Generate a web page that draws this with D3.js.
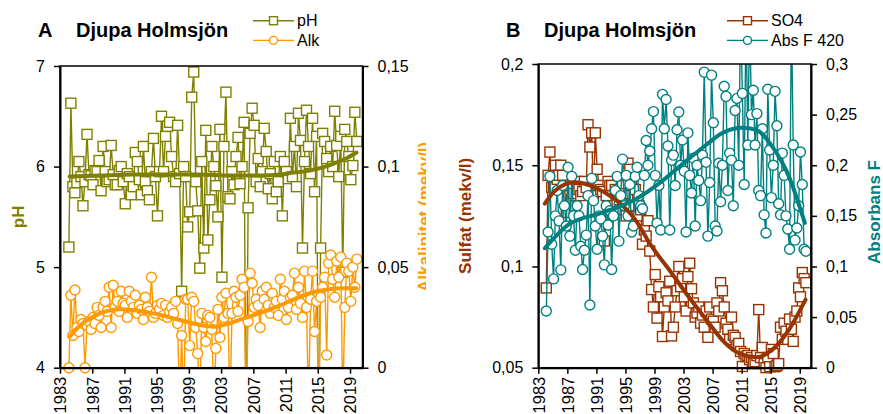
<!DOCTYPE html>
<html>
<head>
<meta charset="utf-8">
<script src="https://cdn.jsdelivr.net/npm/d3@7"></script>
<style>
  body { margin: 0; background: #fff; }
  text { font-family: Arial, "Liberation Sans", sans-serif; }
</style>
</head>
<body>
<svg id="chart" width="883" height="414"></svg>
<script>
// Djupa Holmsjön: pH/alkalinity (A) and sulphate/absorbance (B)

// sampling dates, four samples per year
const sampleYears = [
  1984.1, 1984.35, 1984.6, 1984.85, 1985.1, 1985.35, 1985.6, 1985.85,
  1986.1, 1986.35, 1986.6, 1986.85, 1987.1, 1987.35, 1987.6, 1987.85,
  1988.1, 1988.35, 1988.6, 1988.85, 1989.1, 1989.35, 1989.6, 1989.85,
  1990.1, 1990.35, 1990.6, 1990.85, 1991.1, 1991.35, 1991.6, 1991.85,
  1992.1, 1992.35, 1992.6, 1992.85, 1993.1, 1993.35, 1993.6, 1993.85,
  1994.1, 1994.35, 1994.6, 1994.85, 1995.1, 1995.35, 1995.6, 1995.85,
  1996.1, 1996.35, 1996.6, 1996.85, 1997.1, 1997.35, 1997.6, 1997.85,
  1998.1, 1998.35, 1998.6, 1998.85, 1999.1, 1999.35, 1999.6, 1999.85,
  2000.1, 2000.35, 2000.6, 2000.85, 2001.1, 2001.35, 2001.6, 2001.85,
  2002.1, 2002.35, 2002.6, 2002.85, 2003.1, 2003.35, 2003.6, 2003.85,
  2004.1, 2004.35, 2004.6, 2004.85, 2005.1, 2005.35, 2005.6, 2005.85,
  2006.1, 2006.35, 2006.6, 2006.85, 2007.1, 2007.35, 2007.6, 2007.85,
  2008.1, 2008.35, 2008.6, 2008.85, 2009.1, 2009.35, 2009.6, 2009.85,
  2010.1, 2010.35, 2010.6, 2010.85, 2011.1, 2011.35, 2011.6, 2011.85,
  2012.1, 2012.35, 2012.6, 2012.85, 2013.1, 2013.35, 2013.6, 2013.85,
  2014.1, 2014.35, 2014.6, 2014.85, 2015.1, 2015.35, 2015.6, 2015.85,
  2016.1, 2016.35, 2016.6, 2016.85, 2017.1, 2017.35, 2017.6, 2017.85,
  2018.1, 2018.35, 2018.6, 2018.85, 2019.1, 2019.35, 2019.6, 2019.85
];

const phValues = [
  5.20, 6.63, 5.80, 5.74,  5.84, 6.05, 5.90, 5.61,
  5.85, 6.32, 5.92, 5.91,  5.82, 5.96, 5.95, 6.06,
  5.76, 6.20, 5.95, 5.85,  5.87, 6.21, 5.92, 5.82,
  5.82, 5.96, 6.00, 5.85,  5.63, 5.93, 5.90, 5.72,
  5.80, 6.14, 6.05, 5.87,  5.72, 6.20, 5.85, 5.76,
  5.67, 5.95, 6.28, 5.90,  5.51, 5.95, 6.50, 5.95,
  6.30, 6.40, 6.44, 6.10,  5.90, 5.85, 6.41, 5.93,
  4.76, 6.00, 5.90, 5.40,  5.55, 6.69, 6.94, 5.85,
  5.56, 4.99, 6.05, 5.19,  6.36, 5.27, 5.67, 6.20,
  6.00, 5.81, 5.50, 6.37,  4.90, 6.20, 6.74, 5.70,
  5.68, 5.95, 5.82, 6.10,  6.29, 5.83, 6.00, 6.44,
  3.00, 5.59, 6.33, 6.58,  6.41, 5.85, 6.08, 5.80,
  5.95, 6.38, 6.15, 5.78,  5.93, 5.68, 6.05, 5.75,
  5.85, 6.10, 5.51, 6.05,  5.95, 5.88, 6.48, 5.90,
  6.20, 5.80, 6.53, 6.26,  5.19, 6.05, 6.56, 6.20,
  5.93, 6.48, 5.75, 6.30,  3.00, 5.19, 6.33, 6.25,
  6.08, 5.95, 6.20, 6.00,  6.55, 6.21, 5.90, 6.30,
  4.95, 6.37, 6.25, 6.10,  5.87, 6.01, 6.54, 6.25
];

const alkValues = [
  0, 0.036, 0.016, 0.0386,  0.020, 0.018, 0.024, 0.022,
  0, 0.021, 0.023, 0.019,  0.025, 0.022, 0.030, 0.026,
  0.020, 0.030, 0.033, 0.028,  0.040, 0.020, 0.041, 0.030,
  0.033, 0.028, 0.038, 0.032,  0.031, 0.025, 0.038, 0.033,
  0.030, 0.036, 0.027, 0.031,  0.029, 0.024, 0.035, 0.030,
  0.028, 0.045, 0.025, 0.027,  0.031, 0.029, 0.032, 0.026,
  0.031, 0.025, 0.028, 0.030,  0.027, 0.033, 0.022, -0.02,
  0.016, -0.02, 0.034, 0.034,  0.011, 0.035, 0.033, 0.020,
  0.007, -0.02, 0.027, 0.020,  0.013, 0.026, 0.025, 0.019,
  -0.02, 0.0096, 0.029, 0.015,  0.035, 0.025, 0.037, 0.027,
  -0.02, 0.027, 0.038, 0.035,  0.028, 0.036, 0.044, 0.040,
  -0.02, 0.023, 0.047, 0.042,  0.030, 0.034, 0.031, 0.020,
  0.038, 0.034, 0.040, 0.031,  0.027, 0.037, 0.030, 0.033,
  0.026, 0.044, 0.034, 0.038,  0.024, 0.030, 0.035, 0.036,
  0.047, 0.029, 0.040, 0.032,  0.025, 0.048, 0.030, -0.02,
  0.034, 0.048, 0.018, 0.033,  -0.02, 0.035, 0.040, 0.045,
  0.0063, 0.052, 0.056, 0.044,  0.035, 0.053, 0.045, 0.055,
  -0.02, 0.030, 0.052, 0.048,  0.033, 0.050, 0.040, 0.054
];

const so4Values = [
  0.0894, 0.145, 0.1565, 0.139,  0.139, 0.150, 0.143, 0.145,
  0.150, 0.145, 0.140, 0.127,  0.1267, 0.140, 0.133, 0.136,
  0.130, 0.142, 0.138, 0.135,  0.137, 0.142, 0.139, 0.170,
  0.159, 0.166, 0.135, 0.166,  0.148, 0.140, 0.138, 0.137,
  0.1126, 0.135, 0.142, 0.140,  0.140, 0.130, 0.138, 0.132,
  0.136, 0.128, 0.140, 0.136,  0.125, 0.151, 0.148, 0.140,
  0.130, 0.138, 0.125, 0.130,  0.128, 0.111, 0.118, 0.115,
  0.1226, 0.1076, 0.0886, 0.080,  0.096, 0.0745, 0.090, 0.085,
  0.0654, 0.080, 0.087, 0.083,  0.0927, 0.0657, 0.070, 0.080,
  0.088, 0.100, 0.090, 0.094,  0.085, 0.078, 0.095, 0.1016,
  0.089, 0.082, 0.075, 0.077,  0.080, 0.072, 0.076, 0.070,
  0.078, 0.065, 0.080, 0.074,  0.073, 0.070, 0.082, 0.078,
  0.092, 0.088, 0.080, 0.072,  0.069, 0.064, 0.075, 0.066,
  0.065, 0.061, 0.062, 0.058,  0.0506, 0.057, 0.0555, 0.056,
  0.054, 0.055, 0.052, 0.053,  0.056, 0.0787, 0.055, 0.060,
  0.052, 0.050, 0.055, 0.0505,  0.059, 0.057, 0.0505, 0.051,
  0.052, 0.070, 0.064, 0.072,  0.068, 0.064, 0.074, 0.069,
  0.063, 0.075, 0.078, 0.0894,  0.085, 0.097, 0.094, 0.092
];

const absValues = [
  0.056, 0.134, 0.189, 0.122,  0.0877, 0.150, 0.175, 0.145,
  0.0966, 0.180, 0.160, 0.140,  0.198, 0.130, 0.189, 0.150,
  0.116, 0.160, 0.150, 0.120,  0.097, 0.116, 0.131, 0.170,
  0.062, 0.187, 0.165, 0.140,  0.117, 0.150, 0.147, 0.130,
  0.1016, 0.160, 0.141, 0.155,  0.097, 0.150, 0.175, 0.189,
  0.125, 0.170, 0.206, 0.160,  0.190, 0.150, 0.181, 0.134,
  0.140, 0.189, 0.198, 0.170,  0.160, 0.157, 0.190, 0.2245,
  0.200, 0.214, 0.236, 0.253,  0.190, 0.143, 0.180, 0.136,
  0.270, 0.236, 0.265, 0.219,  0.136, 0.205, 0.210, 0.180,
  0.235, 0.2526, 0.200, 0.225,  0.194, 0.134, 0.232, 0.190,
  0.1725, 0.207, 0.140, 0.200,  0.185, 0.165, 0.210, 0.292,
  0.203, 0.130, 0.183, 0.289,  0.242, 0.140, 0.135, 0.202,
  0.164, 0.200, 0.278, 0.268,  0.175, 0.212, 0.205, 0.160,
  0.254, 0.266, 0.200, 0.350,  0.271, 0.181, 0.350, 0.220,
  0.350, 0.250, 0.274, 0.220,  0.251, 0.175, 0.170, 0.236,
  0.151, 0.133, 0.275, 0.215,  0.168, 0.200, 0.273, 0.239,
  0.162, 0.151, 0.212, 0.190,  0.150, 0.137, 0.117, 0.350,
  0.220, 0.126, 0.138, 0.160,  0.213, 0.181, 0.117, 0.115
];

// smoothed trend curves
const phTrendYears = [1984.2, 1988, 1992, 1996, 2000, 2004, 2008, 2010.3, 2012, 2014, 2015.5, 2017, 2018.5, 2019.8];
const phTrend = [5.90, 5.91, 5.92, 5.92, 5.92, 5.91, 5.91, 5.92, 5.94, 5.96, 5.99, 6.03, 6.08, 6.14];
const alkTrendYears = [1984.2, 1985.5, 1987.1, 1990.4, 1994.6, 1997.9, 2002, 2005.8, 2009.9, 2014, 2018.2, 2019.8];
const alkTrend = [0.0154, 0.021, 0.0253, 0.029, 0.027, 0.0237, 0.0204, 0.0245, 0.0303, 0.037, 0.0395, 0.0395];
const so4TrendYears = [1983.9, 1985.3, 1988, 1990.8, 1993.5, 1996.3, 1998.6, 2001.3, 2003.5, 2006.5, 2008.5, 2010.7, 2013, 2015.2, 2017.5, 2019.8];
const so4Trend = [0.131, 0.1374, 0.1416, 0.139, 0.1333, 0.1234, 0.110, 0.097, 0.086, 0.072, 0.063, 0.057, 0.0552, 0.0588, 0.0687, 0.0836];
const absTrendYears = [1983.9, 1987.1, 1991.7, 1996.3, 2000, 2002, 2006.1, 2008.4, 2011.1, 2013, 2015.2, 2017.5, 2019.7];
const absTrend = [0.118, 0.141, 0.153, 0.166, 0.184, 0.196, 0.220, 0.232, 0.237, 0.235, 0.2186, 0.189, 0.143];

// axis ticks
const yearTicks = [1983, 1987, 1991, 1995, 1999, 2003, 2007, 2011, 2015, 2019];
const phTicks = [4, 5, 6, 7];
const alkTicks = [0, 0.05, 0.1, 0.15];
const so4Ticks = [0.05, 0.1, 0.15, 0.2];
const absTicks = [0, 0.05, 0.1, 0.15, 0.2, 0.25, 0.3];

const svg = d3.select("#chart");
const comma = d => String(d).replace(".", ",");

const panels = [
  {
    id: "a", letter: "A", title: "Djupa Holmsjön",
    left: 60, right: 362.5, top: 66, bottom: 367.7,
    letterX: 38, titleX: 76, legendX: 253,
    s1: { name: "pH", values: phValues, trendX: phTrendYears, trend: phTrend,
          domain: [4, 7], ticks: phTicks, color: "#808000", shape: "square" },
    s2: { name: "Alk", values: alkValues, trendX: alkTrendYears, trend: alkTrend,
          domain: [0, 0.15], ticks: alkTicks, color: "#FF9900", shape: "circle" },
    label1: { text: "pH", x: 24 },
    label2: { text: "Alkalinitet (mekv/l)", x: 430, clip: 426 }
  },
  {
    id: "b", letter: "B", title: "Djupa Holmsjön",
    left: 538.3, right: 811, top: 64, bottom: 367.7,
    letterX: 506, titleX: 544, legendX: 727,
    s1: { name: "SO4", values: so4Values, trendX: so4TrendYears, trend: so4Trend,
          domain: [0.05, 0.2], ticks: so4Ticks, color: "#993300", shape: "square" },
    s2: { name: "Abs F 420", values: absValues, trendX: absTrendYears, trend: absTrend,
          domain: [0, 0.3], ticks: absTicks, color: "#008080", shape: "circle" },
    label1: { text: "Sulfat (mekv/l)", x: 471 },
    label2: { text: "Absorbans F", x: 880, cy: 212 }
  }
];

panels.forEach(drawPanel);

function marker(sel, shape, color, size) {
  if (shape === "square") {
    sel.append("rect")
      .attr("x", -size / 2).attr("y", -size / 2)
      .attr("width", size).attr("height", size);
  } else {
    sel.append("circle").attr("r", size / 2);
  }
  sel.selectAll("rect, circle")
    .attr("fill", "#fff")
    .attr("stroke", color)
    .attr("stroke-width", 1.4);
}

function drawPanel(p) {
  const g = svg.append("g");
  const x = d3.scaleLinear().domain([1983, 2020.55]).range([p.left, p.right]);
  const y1 = d3.scaleLinear().domain(p.s1.domain).range([p.bottom, p.top]);
  const y2 = d3.scaleLinear().domain(p.s2.domain).range([p.bottom, p.top]);
  const midY = (p.top + p.bottom) / 2;

  g.append("clipPath").attr("id", "clip-" + p.id)
    .append("rect")
    .attr("x", p.left).attr("y", p.top)
    .attr("width", p.right - p.left).attr("height", p.bottom - p.top);

  // series: connecting line, then markers
  [[p.s1, y1], [p.s2, y2]].forEach(([s, y]) => {
    const pts = sampleYears.map((t, i) => [t, s.values[i]]);
    g.append("path")
      .datum(pts)
      .attr("clip-path", `url(#clip-${p.id})`)
      .attr("fill", "none")
      .attr("stroke", s.color)
      .attr("stroke-width", 1.4)
      .attr("d", d3.line().x(d => x(d[0])).y(d => y(d[1])));

    g.append("g").selectAll("g")
      .data(pts.filter(d => d[1] >= s.domain[0] && d[1] <= s.domain[1]))
      .join("g")
      .attr("transform", d => `translate(${x(d[0])},${y(d[1])})`)
      .each(function () { marker(d3.select(this), s.shape, s.color, 10); });
  });

  // trend curves
  [[p.s1, y1], [p.s2, y2]].forEach(([s, y]) => {
    g.append("path")
      .datum(s.trendX.map((t, i) => [t, s.trend[i]]))
      .attr("fill", "none")
      .attr("stroke", s.color)
      .attr("stroke-width", 4)
      .attr("stroke-linecap", "round")
      .attr("d", d3.line().x(d => x(d[0])).y(d => y(d[1])).curve(d3.curveMonotoneX));
  });

  // plot frame
  g.append("rect")
    .attr("x", p.left).attr("y", p.top)
    .attr("width", p.right - p.left).attr("height", p.bottom - p.top)
    .attr("fill", "none").attr("stroke", "#000").attr("stroke-width", 1.5);

  // axes
  const axisStyle = a => {
    a.selectAll(".domain").attr("stroke-width", 2);
    a.selectAll(".tick line").attr("stroke-width", 1.5);
    a.selectAll("text").attr("font-size", 16).attr("fill", "#000");
  };

  g.append("g")
    .attr("transform", `translate(${p.left},0)`)
    .call(d3.axisLeft(y1).tickValues(p.s1.ticks).tickFormat(comma).tickSize(6).tickSizeOuter(0).tickPadding(9))
    .call(axisStyle);

  g.append("g")
    .attr("transform", `translate(${p.right},0)`)
    .call(d3.axisRight(y2).tickValues(p.s2.ticks).tickFormat(comma).tickSize(6).tickSizeOuter(0).tickPadding(9))
    .call(axisStyle);

  g.append("g")
    .attr("transform", `translate(0,${p.bottom})`)
    .call(d3.axisBottom(x).tickValues(yearTicks).tickFormat(d3.format("d")).tickSize(6).tickSizeOuter(0))
    .call(axisStyle)
    .selectAll("text")
    .attr("font-size", 16.5)
    .attr("transform", "rotate(-90)")
    .attr("text-anchor", "end")
    .attr("x", -9).attr("y", 0).attr("dy", "0.35em");

  // axis titles
  g.append("text")
    .attr("transform", `translate(${p.label1.x},${midY}) rotate(-90)`)
    .attr("text-anchor", "middle")
    .attr("font-size", 17).attr("font-weight", "bold")
    .attr("fill", p.s1.color)
    .text(p.label1.text);

  const lab2Box = g.append("g");
  if (p.label2.clip) {
    g.append("clipPath").attr("id", "lab-" + p.id)
      .append("rect").attr("x", 0).attr("y", 0)
      .attr("width", p.label2.clip).attr("height", 414);
    lab2Box.attr("clip-path", `url(#lab-${p.id})`);
  }
  lab2Box.append("text")
    .attr("transform", `translate(${p.label2.x},${p.label2.cy || midY}) rotate(-90)`)
    .attr("text-anchor", "middle")
    .attr("font-size", 17).attr("font-weight", "bold")
    .attr("fill", p.s2.color)
    .text(p.label2.text);

  // heading
  g.append("text")
    .attr("x", p.letterX).attr("y", 37)
    .attr("font-size", 20).attr("font-weight", "bold")
    .text(p.letter);
  g.append("text")
    .attr("x", p.titleX).attr("y", 37)
    .attr("font-size", 20).attr("font-weight", "bold")
    .text(p.title);

  // legend
  const legend = g.append("g").selectAll("g")
    .data([p.s1, p.s2])
    .join("g")
    .attr("transform", (d, i) => `translate(${p.legendX},${20.7 + i * 19.7})`);

  legend.append("line")
    .attr("x1", 0).attr("x2", 41)
    .attr("stroke", d => d.color).attr("stroke-width", 1.4);

  legend.append("g")
    .attr("transform", "translate(20.5,0)")
    .each(function (d) { marker(d3.select(this), d.shape, d.color, 8); });

  legend.append("text")
    .attr("x", 44).attr("dy", "0.35em")
    .attr("font-size", 16)
    .text(d => d.name);
}
</script>
</body>
</html>
